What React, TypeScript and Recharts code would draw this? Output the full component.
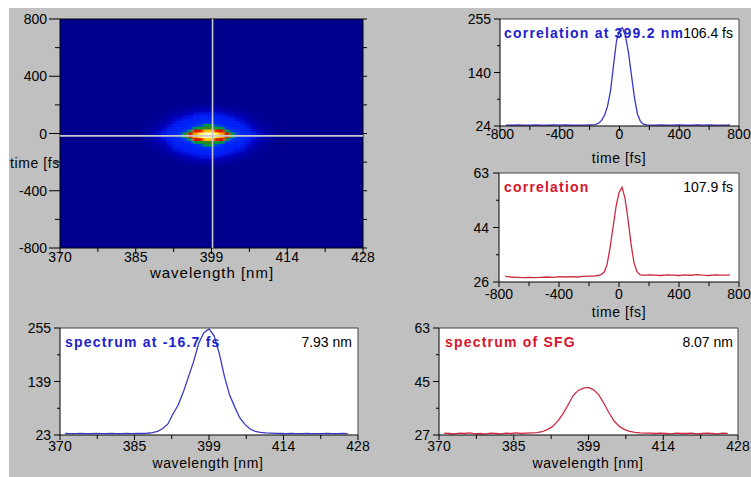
import React from 'react'
import {
  ScatterChart,
  Scatter,
  LineChart,
  Line,
  XAxis,
  YAxis,
  CartesianGrid,
} from 'recharts'

// wavelength grid of both spectra [nm]
const wavelengths = [
  371, 372, 373, 374, 375, 376, 377, 378, 379, 380, 381, 382, 383, 384, 385, 386, 387, 388, 389,
  390, 391, 392, 393, 394, 395, 396, 397, 398, 399, 400, 401, 402, 403, 404, 405, 406, 407, 408,
  409, 410, 411, 412, 413, 414, 415, 416, 417, 418, 419, 420, 421, 422, 423, 424, 425, 426,
]

// spectrum at -16.7 fs (counts)
const spectrumAt = [
  26.2, 25.8, 26.0, 26.4, 25.9, 26.1, 26.3, 25.8, 26.0, 26.5, 26.1, 25.9, 26.3, 26.0, 26.4, 26.2, 26.8, 28, 31,
  37, 47, 69, 88, 116, 149, 182, 222, 245, 253, 238, 200, 150, 110, 84, 60, 46, 36, 31,
  28.5, 27.5, 27, 26.6, 26.3, 26.1, 26.4, 25.9, 26.0, 26.2, 25.8, 26.1, 26.0, 26.3, 25.9, 26.1, 26.4, 26.0,
]

// spectrum of SFG (counts)
const spectrumSfg = [
  27.6, 27.5, 27.4, 27.6, 27.5, 27.7, 27.4, 27.5, 27.3, 27.6, 27.5, 27.4, 27.6, 27.5, 27.7, 27.5, 27.6, 27.7, 27.8,
  28.1, 28.8, 29.8, 31.6, 34.0, 37.0, 40.2, 42.0, 42.8, 43.0, 42.2, 40.5, 37.6, 34.4, 31.6, 29.9, 28.8, 28.2, 27.9,
  27.7, 27.6, 27.6, 27.5, 27.6, 27.5, 27.4, 27.6, 27.5, 27.5, 27.6, 27.4, 27.5, 27.6, 27.5, 27.4, 27.6, 27.5,
]

// delay grid of both correlation traces [fs]
const delays = [
  -760, -720, -680, -640, -600, -560, -520, -480, -440, -400, -360, -320, -280, -240, -200,
  -180, -160, -140, -120, -100, -80, -60, -40, -20, 0, 20, 40, 60, 80, 100, 120, 140, 160, 180, 200,
  240, 280, 320, 360, 400, 440, 480, 520, 560, 600, 640, 680, 720, 740,
]

// correlation at 399.2 nm
const corrAt399 = [
  26.0, 25.6, 26.3, 25.8, 26.1, 26.4, 25.7, 26.0, 26.2, 25.9, 26.3, 25.8, 26.1, 26.0, 26.2,
  26.4, 27, 30, 36, 47, 67, 100, 155, 208, 232, 236, 218, 183, 134, 86, 50, 34, 28, 26.5, 26.1,
  25.9, 26.2, 26.0, 25.7, 26.3, 26.1, 25.8, 26.2, 26.0, 26.4, 25.9, 26.1, 26.0, 26.2,
]

// spectrally integrated correlation
const corrTotal = [
  27.9, 27.7, 27.6, 27.5, 27.6, 27.5, 27.6, 27.7, 27.6, 27.8, 27.7, 27.8, 27.7, 27.9, 28.0,
  28.0, 28.1, 28.2, 28.5, 29.3, 31.8, 37.5, 44.5, 51.5, 56.3, 58.2, 54.4, 47.3, 39.0, 32.5, 29.5, 28.5, 28.3, 28.3, 28.4,
  28.3, 28.2, 28.4, 28.3, 28.2, 28.4, 28.3, 28.5, 28.3, 28.2, 28.4, 28.3, 28.3, 28.4,
]

// relative profiles of the spectrogram along delay and wavelength
const mapDelays = [-220, -200, -180, -160, -140, -120, -100, -80, -60, -40, -20, 0, 20, 40, 60, 80, 100, 120, 140, 160, 180, 200]
const mapDelayProfile = [0.01, 0.02, 0.04, 0.07, 0.12, 0.18, 0.26, 0.35, 0.48, 0.72, 0.95, 0.95, 0.72, 0.48, 0.35, 0.26, 0.18, 0.12, 0.07, 0.04, 0.02, 0.01]
const mapWavelengths = [386, 387, 388, 389, 390, 391, 392, 393, 394, 395, 396, 397, 398, 399, 400, 401, 402, 403, 404, 405, 406, 407, 408, 409, 410, 411]
const mapSpectralProfile = [0.01, 0.02, 0.03, 0.05, 0.08, 0.14, 0.23, 0.32, 0.42, 0.53, 0.73, 0.88, 0.98, 0.98, 0.88, 0.73, 0.53, 0.42, 0.32, 0.23, 0.14, 0.08, 0.05, 0.03, 0.02, 0.01]

// axis ticks (null label = minor tick)
const wlTicks = [370, 377.25, 384.5, 391.75, 399, 406.25, 413.5, 420.75, 428]
const wlLabels = ['370', null, '385', null, '399', null, '414', null, '428']
const mapTimeTicks = [-800, -600, -400, -200, 0, 200, 400, 600, 800]
const timeLabels = ['-800', null, '-400', null, '0', null, '400', null, '800']
const corrAtTicks = [24, 81.75, 139.5, 197.25, 255]
const corrAtLabels = ['24', null, '140', null, '255']
const corrTotalTicks = [26, 35.25, 44.5, 53.75, 63]
const corrTotalLabels = ['26', null, '44', null, '63']
const specAtTicks = [23, 81, 139, 197, 255]
const specAtLabels = ['23', null, '139', null, '255']
const specSfgTicks = [27, 36, 45, 54, 63]
const specSfgLabels = ['27', null, '45', null, '63']

// position of the two cuts through the spectrogram
const cutPoint = [{ wl: 399.2, t: -16.7 }]

const FONT = "'Liberation Sans', Arial, sans-serif"
const BLUE = '#3838c4'
const RED = '#cc2a40'
const TITLE_BLUE = '#2222cc'
const TITLE_RED = '#d8142c'

// false-colour scale of the spectrogram
const heatStops: number[][] = [
  [0, 0, 0, 140],
  [0.03, 0, 0, 185],
  [0.08, 0, 30, 245],
  [0.3, 0, 50, 255],
  [0.34, 0, 150, 60],
  [0.46, 0, 170, 40],
  [0.5, 200, 20, 0],
  [0.53, 235, 0, 0],
  [0.66, 245, 30, 0],
  [0.7, 255, 190, 0],
  [0.74, 255, 235, 0],
  [0.84, 255, 250, 70],
  [0.9, 255, 255, 190],
  [1, 255, 255, 225],
]

function heatColor(v: number) {
  const x = Math.max(0, Math.min(1, v))
  for (let i = 1; i < heatStops.length; i++) {
    const a = heatStops[i - 1]
    const b = heatStops[i]
    if (x <= b[0]) {
      const f = (x - a[0]) / (b[0] - a[0])
      const c = [1, 2, 3].map((k) => Math.round(a[k] + (b[k] - a[k]) * f))
      return `rgb(${c[0]},${c[1]},${c[2]})`
    }
  }
  return 'rgb(255,255,225)'
}

const heatCells = mapDelays.flatMap((t, i) =>
  mapWavelengths.map((wl, j) => ({
    wl,
    t,
    color: heatColor(mapDelayProfile[i] * mapSpectralProfile[j]),
  }))
)

const corrAtRows = delays.map((t, i) => ({ t, v: corrAt399[i] }))
const corrTotalRows = delays.map((t, i) => ({ t, v: corrTotal[i] }))
const specAtRows = wavelengths.map((wl, i) => ({ wl, v: spectrumAt[i] }))
const specSfgRows = wavelengths.map((wl, i) => ({ wl, v: spectrumSfg[i] }))

type Margin = { top: number; right: number; bottom: number; left: number }

// the axes take 1px each, so the plot edge sits exactly on the given margin
const axisRoom = (m: Margin): Margin => ({ top: m.top - 1, right: m.right - 1, bottom: m.bottom - 1, left: m.left - 1 })

// spectrogram layout
const MAP_W = 380
const MAP_H = 290
const MAP_PLOT: Margin = { top: 19, right: 17, bottom: 42, left: 60 }
const mapPlotW = MAP_W - MAP_PLOT.left - MAP_PLOT.right
const mapPlotH = MAP_H - MAP_PLOT.top - MAP_PLOT.bottom
const cellW = (mapPlotW / (428 - 370)) * 1 + 0.6
const cellH = (mapPlotH / 1600) * 20 + 0.6

function HeatCell(props: any) {
  const { cx, cy, payload } = props
  return <rect x={cx - cellW / 2} y={cy - cellH / 2} width={cellW} height={cellH} fill={payload.color} />
}

function CrossHair(props: any) {
  const { cx, cy } = props
  return (
    <g stroke="#c8c8cc" strokeWidth={1.6}>
      <line x1={MAP_PLOT.left} y1={cy} x2={MAP_W - MAP_PLOT.right} y2={cy} />
      <line x1={cx} y1={MAP_PLOT.top} x2={cx} y2={MAP_H - MAP_PLOT.bottom} />
    </g>
  )
}

function AxisTick(props: any) {
  const { x, y, payload, side, values, labels, major = 5, minor = 3, gap = 10, showText = true, size = 14 } = props
  const text = labels[values.indexOf(payload.value)]
  const len = text === null ? minor : major
  const out = side === 'bottom' || side === 'right' ? 1 : -1
  const vertical = side === 'bottom' || side === 'top'
  return (
    <g>
      {vertical ? (
        <line x1={x} y1={y} x2={x} y2={y + out * len} stroke="#000" />
      ) : (
        <line x1={x} y1={y} x2={x + out * len} y2={y} stroke="#000" />
      )}
      {showText && text !== null ? (
        <text
          x={vertical ? x : x + out * gap}
          y={vertical ? y + out * gap : y}
          textAnchor={vertical ? 'middle' : out < 0 ? 'end' : 'start'}
          dominantBaseline="central"
          fontFamily={FONT}
          fontSize={size}
          fill="#000"
        >
          {text}
        </text>
      ) : null}
    </g>
  )
}

const axisBase = {
  type: 'number' as const,
  interval: 0 as const,
  tickLine: false,
  tickSize: 0,
  tickMargin: 0,
  allowDataOverflow: true,
  axisLine: { stroke: '#000' },
}

function Box({ left, top, children }: { left: number; top: number; children: React.ReactNode }) {
  return <div style={{ position: 'absolute', left, top }}>{children}</div>
}

interface TraceProps {
  width: number
  height: number
  plot: Margin
  rows: { v: number }[]
  xKey: string
  xDomain: [number, number]
  xTicks: number[]
  xLabels: (string | null)[]
  xGap: number
  yDomain: [number, number]
  yTicks: number[]
  yLabels: (string | null)[]
  yGap: number
  color: string
}

function TracePanel(p: TraceProps) {
  return (
    <LineChart width={p.width} height={p.height} data={p.rows} margin={axisRoom(p.plot)}>
      <CartesianGrid fill="#fff" horizontal={false} vertical={false} />
      <XAxis
        {...axisBase}
        dataKey={p.xKey}
        domain={p.xDomain}
        ticks={p.xTicks}
        height={1}
        tick={<AxisTick side="bottom" values={p.xTicks} labels={p.xLabels} major={5} minor={4} gap={p.xGap} />}
      />
      <XAxis xAxisId="top" orientation="top" type="number" domain={p.xDomain} height={1} tick={false} tickLine={false} axisLine={{ stroke: '#444' }} />
      <YAxis
        {...axisBase}
        domain={p.yDomain}
        ticks={p.yTicks}
        width={1}
        tick={<AxisTick side="left" values={p.yTicks} labels={p.yLabels} major={6} minor={3} gap={p.yGap} />}
      />
      <YAxis yAxisId="right" orientation="right" type="number" domain={p.yDomain} width={1} tick={false} tickLine={false} axisLine={{ stroke: '#444' }} />
      <Line type="linear" dataKey="v" stroke={p.color} strokeWidth={1.3} dot={false} isAnimationActive={false} />
    </LineChart>
  )
}

const textStyle = { fontFamily: FONT, fontSize: 14 }
const titleStyle = { fontFamily: FONT, fontSize: 14, fontWeight: 700, letterSpacing: 1.2 }
const axisTitleStyle = { fontFamily: FONT, fontSize: 14, letterSpacing: 0.6 }

export default function App() {
  return (
    <div style={{ position: 'fixed', left: 0, top: 0, width: 751, height: 477, background: '#fff', overflow: 'hidden' }}>
      <div style={{ position: 'absolute', left: 9, top: 8, right: 0, bottom: 0, background: '#c0c0c0' }} />
      <svg width={0} height={0} style={{ position: 'absolute' }}>
        <defs>
          <filter id="heat-blur" x="-10%" y="-20%" width="120%" height="140%">
            <feGaussianBlur stdDeviation="1.2 0.7" />
          </filter>
        </defs>
      </svg>
      <style>{'.heat-cells { filter: url(#heat-blur); }'}</style>

      {/* y title of the spectrogram sits behind the plot area */}
      <svg width={751} height={477} style={{ position: 'absolute', left: 0, top: 0 }}>
        <text x={10} y={163} dominantBaseline="central" style={axisTitleStyle}>
          time [fs]
        </text>
      </svg>

      <Box left={0} top={0}>
        <ScatterChart width={MAP_W} height={MAP_H} margin={axisRoom(MAP_PLOT)}>
          <CartesianGrid fill="#00008c" horizontal={false} vertical={false} />
          <XAxis
            {...axisBase}
            dataKey="wl"
            domain={[370, 428]}
            ticks={wlTicks}
            height={1}
            tick={<AxisTick side="bottom" values={wlTicks} labels={wlLabels} major={6} minor={4} gap={9} />}
          />
          <XAxis
            {...axisBase}
            xAxisId="top"
            orientation="top"
            domain={[370, 428]}
            ticks={wlTicks}
            height={1}
            tick={<AxisTick side="top" values={wlTicks} labels={wlLabels} major={7} minor={4} showText={false} />}
          />
          <YAxis
            {...axisBase}
            dataKey="t"
            domain={[-800, 800]}
            ticks={mapTimeTicks}
            width={1}
            tick={<AxisTick side="left" values={mapTimeTicks} labels={timeLabels} major={11} minor={5} gap={13} />}
          />
          <YAxis
            {...axisBase}
            yAxisId="right"
            orientation="right"
            domain={[-800, 800]}
            ticks={mapTimeTicks}
            width={1}
            tick={<AxisTick side="right" values={mapTimeTicks} labels={timeLabels} major={4} minor={4} showText={false} />}
          />
          <Scatter data={heatCells} shape={HeatCell} className="heat-cells" isAnimationActive={false} />
          <Scatter data={cutPoint} shape={CrossHair} isAnimationActive={false} />
        </ScatterChart>
      </Box>

      <Box left={440} top={0}>
        <TracePanel
          width={311}
          height={150}
          plot={{ top: 19, right: 12, bottom: 24, left: 60 }}
          rows={corrAtRows}
          xKey="t"
          xDomain={[-800, 800]}
          xTicks={mapTimeTicks}
          xLabels={timeLabels}
          xGap={8}
          yDomain={[24, 255]}
          yTicks={corrAtTicks}
          yLabels={corrAtLabels}
          yGap={9}
          color={BLUE}
        />
      </Box>

      <Box left={440} top={150}>
        <TracePanel
          width={311}
          height={160}
          plot={{ top: 23, right: 12, bottom: 28, left: 59 }}
          rows={corrTotalRows}
          xKey="t"
          xDomain={[-800, 800]}
          xTicks={mapTimeTicks}
          xLabels={timeLabels}
          xGap={12}
          yDomain={[26, 63]}
          yTicks={corrTotalTicks}
          yLabels={corrTotalLabels}
          yGap={10}
          color={RED}
        />
      </Box>

      <Box left={0} top={300}>
        <TracePanel
          width={380}
          height={177}
          plot={{ top: 28, right: 22, bottom: 42, left: 60 }}
          rows={specAtRows}
          xKey="wl"
          xDomain={[370, 428]}
          xTicks={wlTicks}
          xLabels={wlLabels}
          xGap={11}
          yDomain={[23, 255]}
          yTicks={specAtTicks}
          yLabels={specAtLabels}
          yGap={9}
          color={BLUE}
        />
      </Box>

      <Box left={380} top={300}>
        <TracePanel
          width={371}
          height={177}
          plot={{ top: 28, right: 13, bottom: 42, left: 59 }}
          rows={specSfgRows}
          xKey="wl"
          xDomain={[370, 428]}
          xTicks={wlTicks}
          xLabels={wlLabels}
          xGap={11}
          yDomain={[27, 63]}
          yTicks={specSfgTicks}
          yLabels={specSfgLabels}
          yGap={9}
          color={RED}
        />
      </Box>

      {/* axis titles, panel titles and widths */}
      <svg width={751} height={477} style={{ position: 'absolute', left: 0, top: 0, pointerEvents: 'none' }}>
        <g textAnchor="middle" dominantBaseline="central">
          <text x={212} y={272} style={{ ...axisTitleStyle, fontSize: 15, letterSpacing: 1 }}>wavelength [nm]</text>
          <text x={619} y={158} style={axisTitleStyle}>time [fs]</text>
          <text x={619} y={312} style={axisTitleStyle}>time [fs]</text>
          <text x={208} y={463} style={axisTitleStyle}>wavelength [nm]</text>
          <text x={588} y={463} style={axisTitleStyle}>wavelength [nm]</text>
        </g>
        <g textAnchor="end" dominantBaseline="central" fill="#000">
          <text x={733} y={33} style={textStyle}>106.4 fs</text>
          <text x={733} y={187} style={textStyle}>107.9 fs</text>
          <text x={352} y={342} style={textStyle}>7.93 nm</text>
          <text x={733} y={342} style={textStyle}>8.07 nm</text>
        </g>
        <g dominantBaseline="central">
          <text x={504} y={33} fill={TITLE_BLUE} style={titleStyle}>correlation at 399.2 nm</text>
          <text x={504} y={187} fill={TITLE_RED} style={titleStyle}>correlation</text>
          <text x={65} y={342} fill={TITLE_BLUE} style={titleStyle}>spectrum at -16.7 fs</text>
          <text x={445} y={342} fill={TITLE_RED} style={titleStyle}>spectrum of SFG</text>
        </g>
      </svg>
    </div>
  )
}
